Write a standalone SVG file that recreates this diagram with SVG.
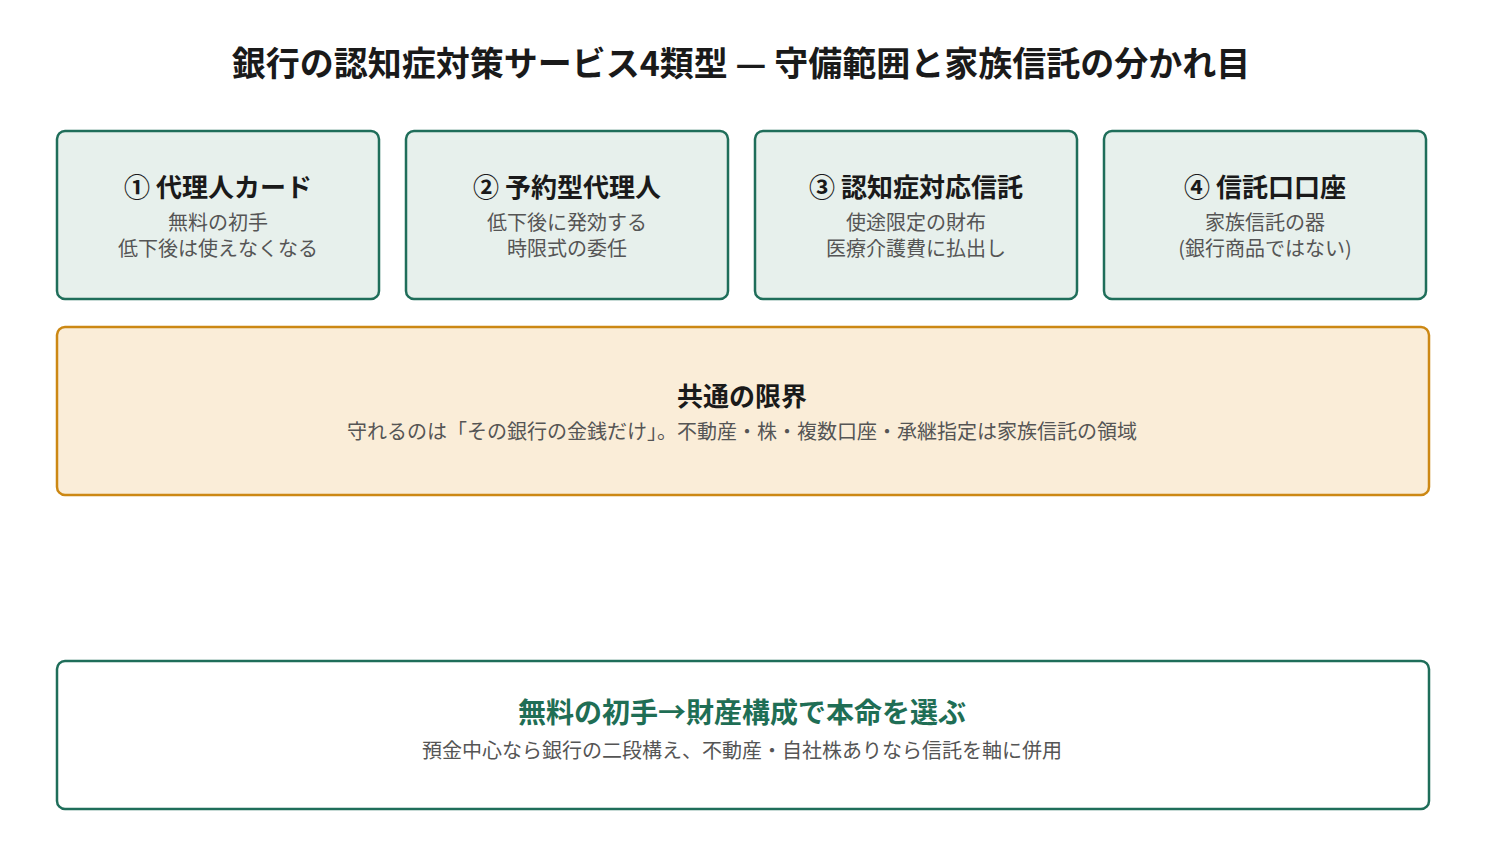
<svg xmlns="http://www.w3.org/2000/svg" width="1485" height="854" viewBox="0 0 1485 854">
<style>
text{font-family:"Noto Sans CJK JP","Noto Sans",sans-serif;text-anchor:middle;dominant-baseline:central}
.ttl{font-size:34px;font-weight:700;fill:#1a1a1a}
.box{fill:#e7f0ec;stroke:#1f6e5a;stroke-width:2.5}
.warn{fill:#faedd8;stroke:#cc8814;stroke-width:2.5}
.res{fill:#ffffff;stroke:#1f6e5a;stroke-width:2.5}
.h{font-size:26px;font-weight:700;fill:#1a1a1a}
.s{font-size:20px;fill:#555555}
.hg{font-size:28px;font-weight:700;fill:#1f6e55}
</style>
<rect width="1485" height="854" fill="#ffffff"/>
<text class="ttl" x="741" y="61">銀行の認知症対策サービス4類型 — 守備範囲と家族信託の分かれ目</text>
<g id="card1">
<rect class="box" x="57" y="131" width="322" height="168" rx="8"/>
<text class="h" x="218" y="185">① 代理人カード</text>
<text class="s" x="218" y="221">無料の初手</text>
<text class="s" x="218" y="247">低下後は使えなくなる</text>
</g>
<g id="card2">
<rect class="box" x="406" y="131" width="322" height="168" rx="8"/>
<text class="h" x="567" y="185">② 予約型代理人</text>
<text class="s" x="567" y="221">低下後に発効する</text>
<text class="s" x="567" y="247">時限式の委任</text>
</g>
<g id="card3">
<rect class="box" x="755" y="131" width="322" height="168" rx="8"/>
<text class="h" x="916" y="185">③ 認知症対応信託</text>
<text class="s" x="916" y="221">使途限定の財布</text>
<text class="s" x="916" y="247">医療介護費に払出し</text>
</g>
<g id="card4">
<rect class="box" x="1104" y="131" width="322" height="168" rx="8"/>
<text class="h" x="1265" y="185">④ 信託口口座</text>
<text class="s" x="1265" y="221">家族信託の器</text>
<text class="s" x="1265" y="247">(銀行商品ではない)</text>
</g>
<g id="limit">
<rect class="warn" x="57" y="327" width="1372" height="168" rx="8"/>
<text class="h" x="742" y="394">共通の限界</text>
<text class="s" x="742" y="430">守れるのは「その銀行の金銭だけ」。不動産・株・複数口座・承継指定は家族信託の領域</text>
</g>
<g id="conclusion">
<rect class="res" x="57" y="661" width="1372" height="148" rx="8"/>
<text class="hg" x="742" y="711">無料の初手→財産構成で本命を選ぶ</text>
<text class="s" x="742" y="749">預金中心なら銀行の二段構え、不動産・自社株ありなら信託を軸に併用</text>
</g>
<g id="connectors"></g>
</svg>
